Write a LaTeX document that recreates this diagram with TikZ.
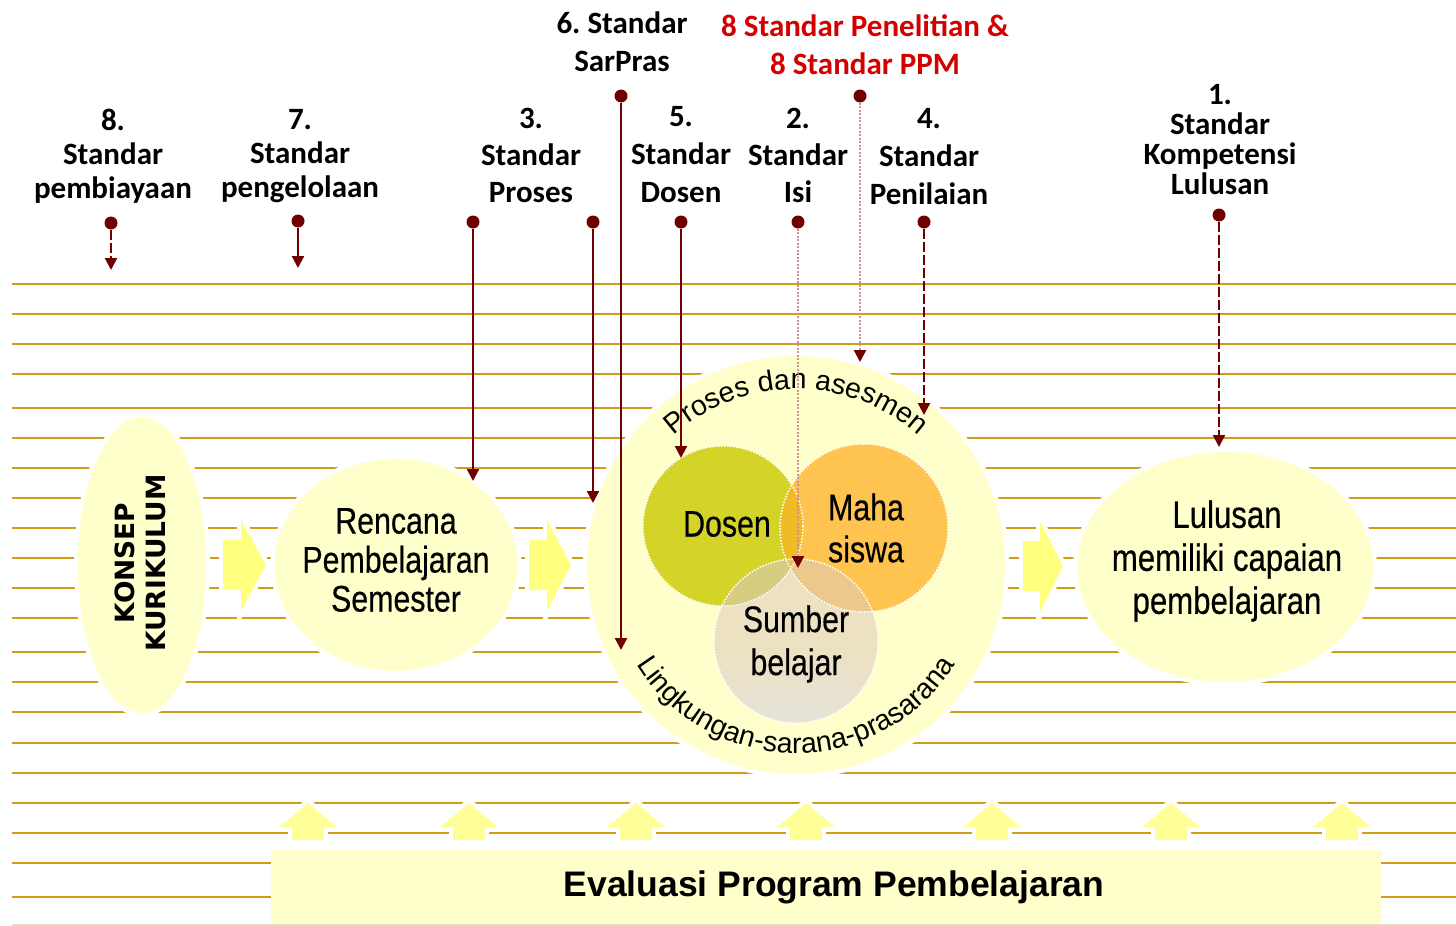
\documentclass[tikz,border=0pt]{standalone}
\usepackage{fontspec}
\usetikzlibrary{arrows.meta,decorations.text,shapes.geometric}

\newfontfamily\lblfont{Carlito}
\newfontfamily\narrowfont[FakeStretch=0.82,FakeBold=0.4]{Liberation Sans}
\newfontfamily\arialfont{Liberation Sans}
\newfontfamily\widefont{DejaVu Sans}
\frenchspacing

\definecolor{rulegold}{RGB}{205,158,22}
\definecolor{rulefaint}{RGB}{228,220,192}
\definecolor{paleyel}{RGB}{255,255,204}
\definecolor{blockyel}{RGB}{255,255,128}
\definecolor{upyel}{RGB}{255,255,153}
\definecolor{stdred}{RGB}{112,0,0}
\definecolor{softred}{RGB}{205,145,145}
\definecolor{headred}{RGB}{210,0,0}
\definecolor{dosenc}{RGB}{212,212,40}
\definecolor{mahac}{RGB}{255,196,80}
\definecolor{lensDM}{RGB}{240,188,38}
\definecolor{sumtop}{RGB}{236,225,192}
\definecolor{sumbot}{RGB}{229,226,216}
\definecolor{lensSD}{RGB}{214,205,128}
\definecolor{lensSM}{RGB}{236,200,140}
\definecolor{lensSDM}{RGB}{226,192,100}

\begin{document}
\begin{tikzpicture}[x=1pt,y=1pt,
  rule/.style={draw=rulegold, line width=2pt},
  halo/.style={preaction={draw=white, line width=8pt}},
  pale/.style={fill=paleyel, draw=none, halo, inner sep=0pt},
  oval/.style={ellipse, pale},
  lbl/.style={font=\lblfont\bfseries\fontsize{31}{#1}\selectfont, align=center, inner sep=0pt},
  lbl/.default=37,
  shapetext/.style={font=\narrowfont\fontsize{37}{#1}\selectfont, align=center, inner sep=0pt},
  shapetext/.default=40,
  dot/.style={circle, fill=stdred, inner sep=0pt, minimum size=13pt},
  feed/.style={draw=stdred, line width=2.2pt, -{Triangle[width=12pt,length=12pt]}},
  feeddash/.style={feed, dash pattern=on 10pt off 3pt},
  feeddot/.style={draw=softred, line width=2.5pt, dash pattern=on 2pt off 1.5pt,
    -{Triangle[width=12pt,length=12pt,color=stdred]}},
  blockarrow/.style={fill=blockyel, halo},
  uparrow/.style={fill=upyel, halo},
  venn/.style={circle, draw=white, line width=1.5pt, dash pattern=on 1.5pt off 1.5pt, inner sep=0pt}
]
\useasboundingbox (0,0) rectangle (1456,-926);
\fill[white] (0,0) rectangle (1456,-926);

% ruled background
\foreach \yy in {284,314,344,374,408,438,468,498,528,558,588,618,652,682,712,743,773,803,833,863,897}
  \draw[rule] (12,-\yy) -- (1456,-\yy);
\draw[rulefaint, line width=1.5pt] (12,-925) -- (1456,-925);

% main stages
\node[oval, minimum width=128pt, minimum height=296pt] (konsep) at (142,-565) {};
\node[oval, minimum width=243pt, minimum height=212pt] (rps) at (396,-565) {};
\node[circle, pale, minimum size=418pt] (env) at (796,-565) {};
\node[oval, minimum width=296pt, minimum height=230pt] (lulus) at (1225,-567) {};
\node[fill=paleyel, inner sep=0pt, minimum width=1110pt, minimum height=73pt, anchor=north west] (evalbox) at (271,-850) {};

% block arrows between stages
\path[blockarrow] (223,-540) -- (241,-540) -- (241,-520) -- (266,-565) -- (241,-611) -- (241,-590) -- (223,-590) -- cycle;
\path[blockarrow] (529,-540) -- (547,-540) -- (547,-520) -- (571,-565) -- (547,-611) -- (547,-590) -- (529,-590) -- cycle;
\path[blockarrow] (1023,-541) -- (1040,-541) -- (1040,-522) -- (1063,-566) -- (1040,-612) -- (1040,-591) -- (1023,-591) -- cycle;

% feedback arrows from the evaluation bar
\foreach \cx in {308,469,636,806,992,1171,1342}
  \path[uparrow] (\cx-16,-840) -- (\cx-16,-827) -- (\cx-29,-827) -- (\cx,-803) -- (\cx+29,-827) -- (\cx+16,-827) -- (\cx+16,-840) -- cycle;

% Venn of dosen, mahasiswa, sumber belajar
\fill[dosenc] (723,-526) circle[radius=80pt];
\fill[mahac] (864,-528) circle[radius=84pt];
\begin{scope}
  \clip (723,-526) circle[radius=80pt];
  \fill[lensDM] (864,-528) circle[radius=84pt];
\end{scope}
\shade[top color=sumtop, bottom color=sumbot, middle color=sumtop] (796,-641) circle[radius=82pt];
\begin{scope}
  \clip (796,-641) circle[radius=82pt];
  \fill[lensSD] (723,-526) circle[radius=80pt];
  \fill[lensSM] (864,-528) circle[radius=84pt];
  \clip (723,-526) circle[radius=80pt];
  \fill[lensSDM] (864,-528) circle[radius=84pt];
\end{scope}
\node[venn, minimum size=160pt] (dosen) at (723,-526) {};
\node[venn, minimum size=168pt] (maha) at (864,-528) {};
\node[venn, minimum size=164pt] (sumber) at (796,-641) {};

% texts of the stages
\node[font=\widefont\bfseries\fontsize{26.5}{31}\selectfont, align=center, rotate=90, inner sep=0pt]
  (konsepT) at (140,-563) {KONSEP\\KURIKULUM};
\node[shapetext=39] (rpsT) at (396,-560) {Rencana\\Pembelajaran\\Semester};
\node[shapetext=43, font=\narrowfont\fontsize{38}{43}\selectfont] (lulusT) at (1227,-561) {Lulusan\\memiliki capaian\\pembelajaran};
\node[shapetext] (dosenT) at (727,-524) {Dosen};
\node[shapetext=42] (mahaT) at (866,-528) {Maha\\siswa};
\node[shapetext=43] (sumberT) at (796,-644) {Sumber\\belajar};
\node[font=\arialfont\bfseries\fontsize{35.5}{40}\selectfont, inner sep=0pt, anchor=base]
  (evalT) at (834,-896) {Evaluasi Program Pembelajaran};

% curved captions around the learning environment
\path[decorate, decoration={text along path, text align=center,
    text={|\arialfont\fontsize{28.5}{30}\selectfont|Proses dan asesmen}}]
  (796,-572) ++(135:183pt) arc[start angle=135, end angle=45, radius=183pt];
\path[decorate, decoration={text along path, text align=center,
    text={|\arialfont\fontsize{28.5}{30}\selectfont|Lingkungan-sarana-prasarana}}]
  (796,-565) ++(210:188pt) arc[start angle=210, end angle=330, radius=188pt];

% standards
\node[lbl=34] (s8) at (113,-156.5) {8.\\Standar\\pembiayaan};
\node[lbl=34] (s7) at (300,-156.5) {7.\\Standar\\pengelolaan};
\node[lbl=37] (s3) at (531,-155) {3.\\Standar\\Proses};
\node[lbl=38] (s6) at (622,-41.5) {6. Standar\\SarPras};
\node[lbl=38, text=headred] (sP) at (865,-44.5) {8 Standar Penelitian \&\\8 Standar PPM};
\node[lbl=38] (s5) at (681,-154.5) {5.\\Standar\\Dosen};
\node[lbl=37] (s2) at (798,-155.5) {2.\\Standar\\Isi};
\node[lbl=38] (s4) at (929,-157) {4.\\Standar\\Penilaian};
\node[lbl=30] (s1) at (1220,-139.5) {1.\\Standar\\Kompetensi\\Lulusan};

% links from standards to the stages
\node[dot] (p8) at (111,-223) {};  \coordinate (q8) at (111,-270);
\node[dot] (p7) at (298,-221) {};  \coordinate (q7) at (298,-268);
\node[dot] (p3a) at (473,-222) {}; \coordinate (q3a) at (473,-481);
\node[dot] (p3b) at (593,-222) {}; \coordinate (q3b) at (593,-503);
\node[dot] (p6) at (621,-96) {};   \coordinate (q6) at (621,-650);
\node[dot] (p5) at (681,-222) {};  \coordinate (q5) at (681,-458);
\node[dot] (p2) at (798,-222) {};  \coordinate (q2) at (798,-568);
\node[dot] (pP) at (860,-96) {};   \coordinate (qP) at (860,-362);
\node[dot] (p4) at (924,-222) {};  \coordinate (q4) at (924,-415);
\node[dot] (p1) at (1219,-215) {}; \coordinate (q1) at (1219,-447);

\draw[feeddash] (p8) -- (q8);
\draw[feed] (p7) -- (q7);
\draw[feed] (p3a) -- (q3a);
\draw[feed] (p3b) -- (q3b);
\draw[feed] (p6) -- (q6);
\draw[feed] (p5) -- (q5);
\draw[feeddot] (p2) -- (q2);
\draw[feeddot] (pP) -- (qP);
\draw[feeddash] (p4) -- (q4);
\draw[feeddash] (p1) -- (q1);
\end{tikzpicture}
\end{document}
